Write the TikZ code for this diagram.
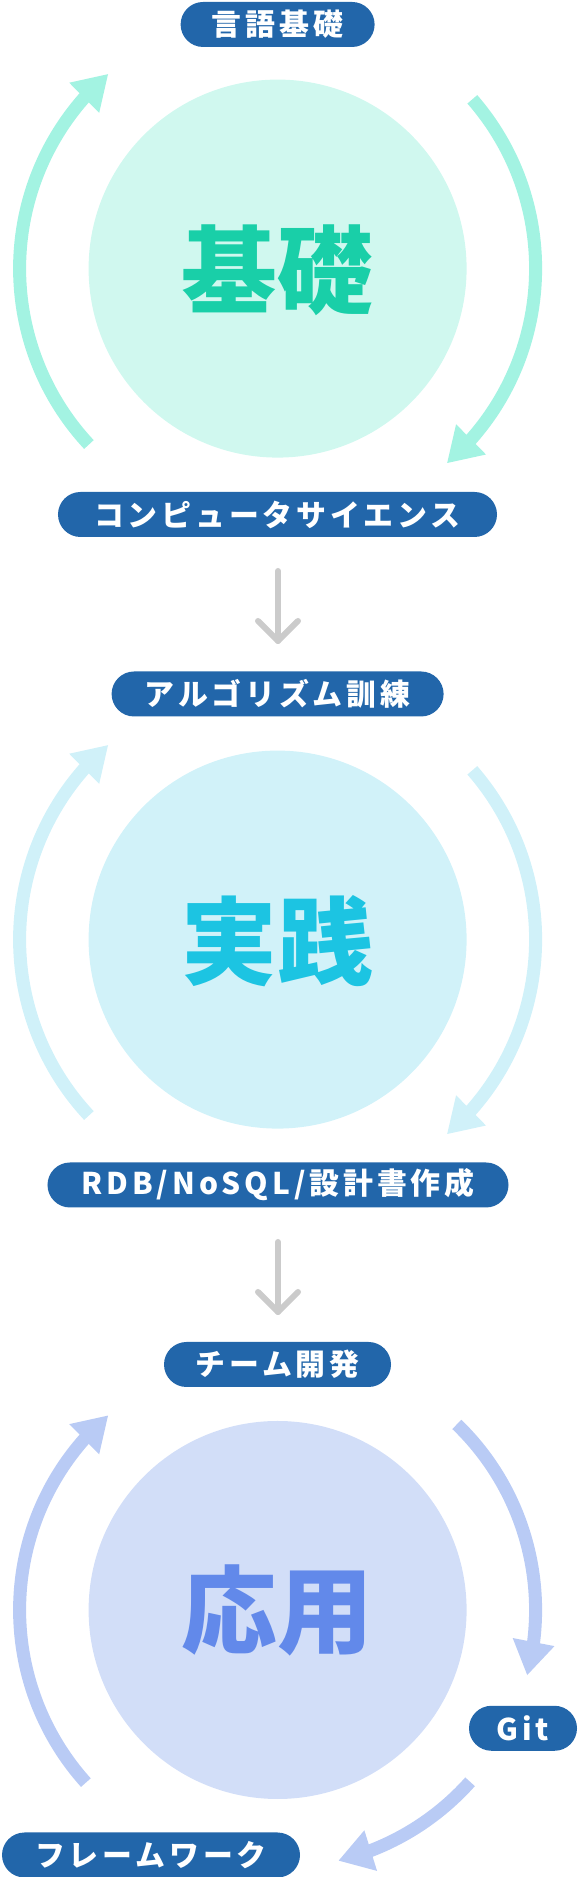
\documentclass[tikz,border=0pt]{standalone}
\usepackage{fontspec}
\newfontfamily\jp{Noto Sans CJK JP}
\usetikzlibrary{arrows.meta,bending}
\definecolor{pillblue}{HTML}{2266AA}
\definecolor{grayarrow}{HTML}{CBCBCB}
\definecolor{fillA}{HTML}{D0F8EF}
\definecolor{arrA}{HTML}{A3F3E2}
\definecolor{txtA}{HTML}{19CFA8}
\definecolor{fillB}{HTML}{D1F2F9}
\definecolor{arrB}{HTML}{D0F1F9}
\definecolor{txtB}{HTML}{1CC4E2}
\definecolor{fillC}{HTML}{D2DEF8}
\definecolor{arrC}{HTML}{B9CBF5}
\definecolor{txtC}{HTML}{6289EA}
\begin{document}
\begin{tikzpicture}[x=1bp,y=1bp,
  pill/.style={fill=pillblue, rounded corners=22.5bp, minimum height=45bp, inner sep=0pt, text=white,
    font=\jp\bfseries\fontsize{30}{32}\selectfont\addfontfeature{LetterSpace=13}},
  disc/.style={circle, minimum size=378bp, inner sep=0pt},
  bigtext/.style={inner sep=0pt, font=\jp\bfseries\fontsize{96}{100}\selectfont},
  cyc/.style={line width=13bp, -{Triangle[length=34bp,width=40bp]}},
  downarrow/.style={grayarrow, line width=6bp, line cap=round, line join=round}
]
\useasboundingbox (0,0) rectangle (578,1877);

% ---------- section 1 ----------
\node[pill, minimum width=194bp] (p1) at (277.6,1852.5) {言語基礎};
\node[disc, fill=fillA] (c1) at (277.6,1608.4) {};
\node[bigtext, text=txtA] (t1) at (277.6,1607) {基礎};
\draw[cyc, arrA] ([shift={(223:258)}]c1.center) arc[start angle=223, end angle=131, radius=258];
\draw[cyc, arrA] ([shift={(41:258)}]c1.center) arc[start angle=41, end angle=-49, radius=258];
\node[pill, minimum width=439bp] (p2) at (277.5,1362.5) {コンピュータサイエンス};

\coordinate (d1s) at (278,1306);
\coordinate (d1e) at (278,1236);
\draw[downarrow] (d1s) -- (d1e);
\draw[downarrow] ([shift={(-20,20)}]d1e) -- (d1e) -- ([shift={(20,20)}]d1e);

% ---------- section 2 ----------
\node[pill, minimum width=332bp] (p3) at (277.6,1183) {アルゴリズム訓練};
\node[disc, fill=fillB] (c2) at (277.6,937.4) {};
\node[bigtext, text=txtB] (t2) at (277.6,936) {実践};
\draw[cyc, arrB] ([shift={(223:258)}]c2.center) arc[start angle=223, end angle=131, radius=258];
\draw[cyc, arrB] ([shift={(41:258)}]c2.center) arc[start angle=41, end angle=-49, radius=258];
\node[pill, minimum width=461bp] (p4) at (278,692) {RDB/NoSQL/設計書作成};

\coordinate (d2s) at (278,635);
\coordinate (d2e) at (278,565);
\draw[downarrow] (d2s) -- (d2e);
\draw[downarrow] ([shift={(-20,20)}]d2e) -- (d2e) -- ([shift={(20,20)}]d2e);

% ---------- section 3 ----------
\node[pill, minimum width=227bp] (p5) at (277.5,512.5) {チーム開発};
\node[disc, fill=fillC] (c3) at (277.6,267) {};
\node[bigtext, text=txtC] (t3) at (277.6,267) {応用};
\draw[cyc, arrC] ([shift={(222:258)}]c3.center) arc[start angle=222, end angle=131, radius=258];
\draw[cyc, arrC] ([shift={(46:258)}]c3.center) arc[start angle=46, end angle=-14.7, radius=258];
\draw[cyc, arrC] ([shift={(-41.75:258)}]c3.center) arc[start angle=-41.75, end angle=-76.4, radius=258];
\node[pill, minimum width=108bp] (p6) at (523,148.7) {Git};
\node[pill, minimum width=298bp] (p7) at (151,22) {フレームワーク};
\end{tikzpicture}
\end{document}
